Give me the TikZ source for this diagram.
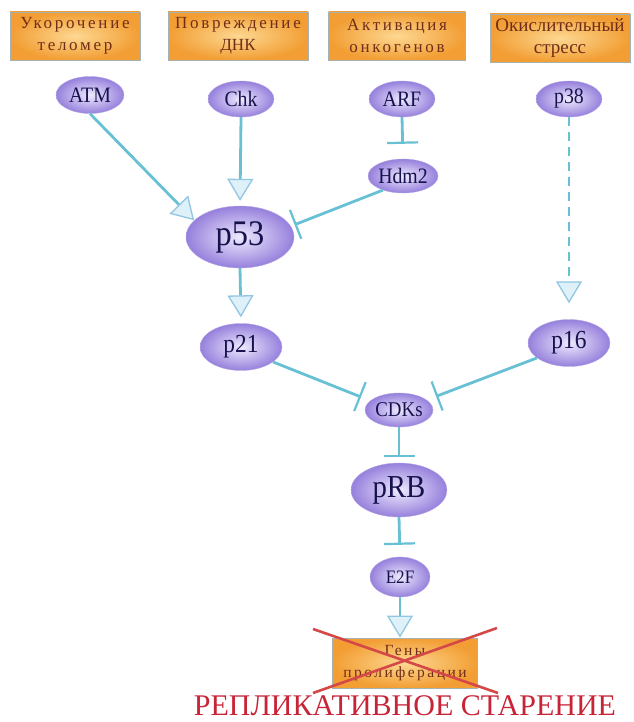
\documentclass[tikz,border=0pt]{standalone}
\usepackage{fontspec}
\setmainfont{Liberation Serif}
\newfontfamily\spaced[LetterSpace=16]{Liberation Serif}
\newfontfamily\plainser{Liberation Serif}
\newfontfamily\protfont[FakeStretch=0.9]{Liberation Serif}
\usetikzlibrary{arrows.meta,shapes.geometric}

\definecolor{linec}{RGB}{104,192,212}
\definecolor{headfill}{RGB}{222,240,248}
\definecolor{headdraw}{RGB}{146,198,226}
\definecolor{ovin}{RGB}{238,234,253}
\definecolor{ovout}{RGB}{150,128,220}
\definecolor{ovtext}{RGB}{22,18,78}
\definecolor{boxin}{RGB}{253,216,146}
\definecolor{boxout}{RGB}{242,158,52}
\definecolor{boxline}{RGB}{165,178,178}
\definecolor{boxtext}{RGB}{112,46,24}
\definecolor{redtext}{RGB}{200,36,56}
\definecolor{redx}{RGB}{212,72,72}

\begin{document}
\begin{tikzpicture}[x=1pt,y=-1pt,
  cause/.style={rectangle, draw=boxline, line width=0.8pt, inner color=boxin, outer color=boxout,
    minimum width=#1, minimum height=48pt, inner sep=0pt, align=center,
    text=boxtext, font=\spaced\fontsize{17}{22}\selectfont},
  cause/.default=132pt,
  prot/.style 2 args={ellipse, inner color=ovin, outer color=ovout, draw=ovout!70!white, line width=0.4pt,
    minimum width=#1, minimum height=#2, inner sep=0pt, text=ovtext},
  act/.style={draw=linec, line width=2.8pt,
    -{Triangle[length=22pt,width=26pt,fill=headfill,color=headdraw,line width=1.3pt]}},
  inh/.style={draw=linec, line width=2.8pt, -{Bar[width=31pt,line width=2.2pt]}},
  dashact/.style={act, dash pattern=on 9pt off 6pt}
]
\useasboundingbox (0,0) rectangle (633,722);

% stress sources
\node[cause=130pt] (tel) at (75,36) {Укорочение\\теломер};
\node[cause=140pt] (dna) at (238,36) {Повреждение\\{\plainser ДНК}};
\node[cause=137pt] (onc) at (397,36) {Активация\\онкогенов};
\node[cause=140pt, font=\plainser\fontsize{19}{22}\selectfont] (ox) at (560,38) {Окислительный\\стресс};

% proteins
\node[prot={68pt}{37pt}, font=\protfont\fontsize{22}{22}\selectfont] (ATM) at (90,95) {ATM};
\node[prot={66pt}{36pt}, font=\protfont\fontsize{22}{22}\selectfont] (Chk) at (241,99) {Chk};
\node[prot={66pt}{36pt}, font=\protfont\fontsize{22}{22}\selectfont] (ARF) at (402,99) {ARF};
\node[prot={66pt}{36pt}, font=\protfont\fontsize{22}{22}\selectfont] (p38) at (569,99) {p38};
\node[prot={70pt}{34pt}, font=\protfont\fontsize{22}{22}\selectfont] (Hdm2) at (403,176) {Hdm2};
\node[prot={108pt}{62pt}, font=\protfont\fontsize{36}{36}\selectfont] (p53) at (240,237) {p53};
\node[prot={82pt}{47pt}, font=\protfont\fontsize{26}{26}\selectfont] (p21) at (241,347) {p21};
\node[prot={82pt}{47pt}, font=\protfont\fontsize{26}{26}\selectfont] (p16) at (569,343) {p16};
\node[prot={68pt}{34pt}, font=\protfont\fontsize{21}{21}\selectfont] (CDKs) at (399,410) {CDKs};
\node[prot={96pt}{54pt}, font=\protfont\fontsize{32}{32}\selectfont] (pRB) at (399,490) {pRB};
\node[prot={60pt}{40pt}, font=\protfont\fontsize{19}{19}\selectfont] (E2F) at (400,577) {E2F};

% target genes
\node[cause=145pt, minimum height=50pt, font=\spaced\fontsize{15.5}{22}\selectfont] (genes) at (405,663) {Гены\\пролиферации};

% connectors
\draw[act] (ATM.south) -- (p53.160);
\draw[act, shorten >=5pt] (Chk.south) -- (p53.north);
\draw[inh, shorten >=15pt] (ARF.south) -- (Hdm2.north);
\draw[inh, shorten >=4pt] (Hdm2.215) -- (p53.12);
\draw[act, shorten >=6pt] (p53.south) -- (p21.north);
\draw[dashact, shorten >=16pt] (p38.south) -- (p16.north);
\draw[inh, shorten >=10pt] (p21.-25) -- (CDKs.162);
\draw[inh, shorten >=10pt] (p16.205) -- (CDKs.20);
\draw[inh, shorten >=6pt] (CDKs.south) -- (pRB.north);
\draw[inh, shorten >=12pt] (pRB.south) -- (E2F.north);
\draw[act] (E2F.south) -- (E2F.south |- genes.north);

% crossed out
\coordinate (xa) at (313,629);
\coordinate (xb) at (498,693);
\coordinate (xc) at (497,628);
\coordinate (xd) at (313,693);
\draw[redx, line width=2.6pt] (xa) -- (xb);
\draw[redx, line width=2.6pt] (xc) -- (xd);

\node[anchor=base, text=redtext, font=\fontsize{30}{30}\selectfont, inner sep=0pt] (res) at (405,715) {РЕПЛИКАТИВНОЕ СТАРЕНИЕ};
\end{tikzpicture}
\end{document}
